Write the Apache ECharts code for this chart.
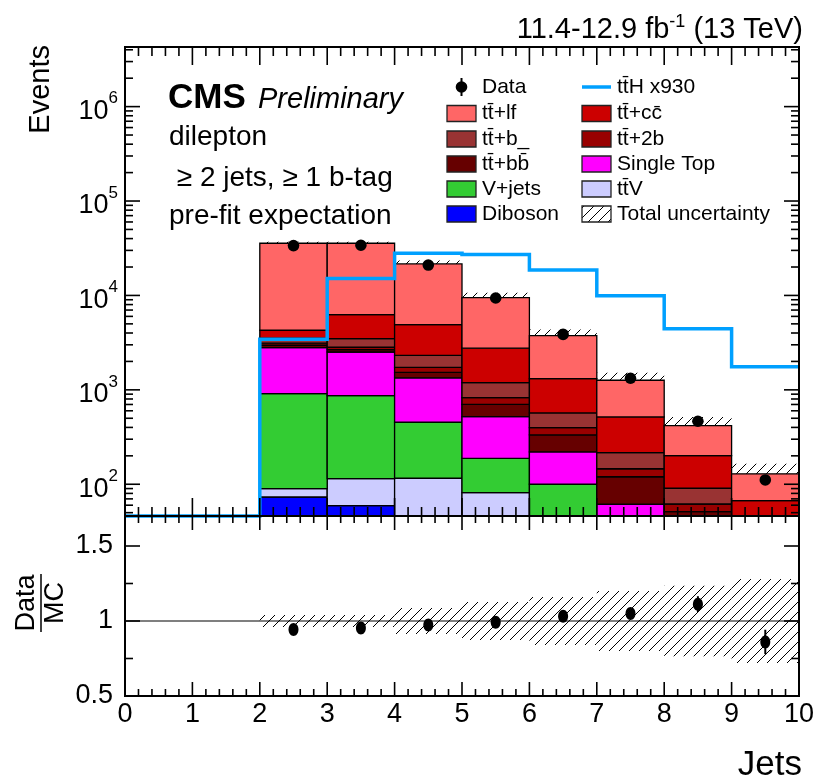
<!DOCTYPE html>
<html><head><meta charset="utf-8">
<script src="https://cdn.jsdelivr.net/npm/echarts@6/dist/echarts.min.js"></script>
<style>html,body{margin:0;padding:0;background:#fff}#c{width:819px;height:782px}</style>
</head><body><div id="c"></div>
<script>
// ---------------- data ----------------
const binEdges  = [0,1,2,3,4,5,6,7,8,9,10];
const xTickLabels = ['0','1','2','3','4','5','6','7','8','9','10'];
const diboson   = [0,0,73.3,59.3,30,20,8,3,1,0.5];
const ttV       = [0,0,16.5,55.3,85.8,61.5,27,17,7,2.5];
const vjets     = [0,0,822,754,338,106.5,65,20,7,3];
const singleTop = [0,0,1888,1649,882,332,120,21.4,15,6];
const ttbb      = [0,0,167,149,199,183,113,58.6,21.3,10];
const tt2b      = [0,0,153,159,199,123,65,26,10.5,8];
const ttb       = [0,0,400,654,588,365,171,70,28.9,10];
const ttcc      = [0,0,760,2790,2588,1569,746,301,110.3,27];
const ttlf      = [0,0,31420,29430,16660,6720,2435,747,217,62];
const ttH930    = [0,0,3436,15070,28000,27200,18630,9950,4450,1761];
const dataVals  = [0,0,33700,34020,20990,9395,3866,1327,465,111];
const dataErr   = [0,0,184,184,145,97,62,36,22,10.5];
const relUnc    = [0,0,0.04,0.04,0.086,0.127,0.16,0.2,0.235,0.28];
const yLogMajor = [100,1000,10000,100000,1000000];
const ratioMajor = [0.5,1,1.5];
const ratioMinor = [0.75,1.25];

// ---------------- setup ----------------
const FONT = '"Liberation Sans", Arial, Helvetica, sans-serif';
const Y_MIN = 46.1, Y_MAX = 4.28e6;
const R_MIN = 0.5, R_MAX = 1.7;
const nb = binEdges.length - 1;

const layers = [
  {name:'Diboson',    vals:diboson,   color:'#0000FF'},
  {name:'ttV',        vals:ttV,       color:'#CCCCFF'},
  {name:'V+jets',     vals:vjets,     color:'#33CC33'},
  {name:'Single Top', vals:singleTop, color:'#FF00FF'},
  {name:'tt+bb',      vals:ttbb,      color:'#660000'},
  {name:'tt+2b',      vals:tt2b,      color:'#990000'},
  {name:'tt+b',       vals:ttb,       color:'#993333'},
  {name:'tt+cc',      vals:ttcc,      color:'#CC0000'},
  {name:'tt+lf',      vals:ttlf,      color:'#FF6666'}
];
let run = new Array(nb).fill(0);
layers.forEach(l => { l.lo = run.slice(); run = run.map((r,i)=>r + l.vals[i]); l.hi = run.slice(); });
const total = run;

// hatch pattern
const hatch = document.createElement('canvas'); hatch.width = 10; hatch.height = 10;
(function(){ const c = hatch.getContext('2d'); c.strokeStyle = '#000'; c.lineWidth = 1;
  c.beginPath(); c.moveTo(-1,11); c.lineTo(11,-1); c.stroke(); })();
const hatchFill = {image: hatch, repeat: 'repeat'};

const mctx = document.createElement('canvas').getContext('2d');
function tw(text, size, pre){ mctx.font = (pre||'') + ' ' + size + 'px ' + FONT; return mctx.measureText(text).width; }

// ---------------- series ----------------
const series = [];

// uncertainty band (behind the stack)
series.push({type:'custom', xAxisIndex:0, yAxisIndex:0, z:1, silent:true, clip:true,
  data: total.map((t,i)=>[i+0.5, Math.max(t, Y_MIN)]),
  renderItem:(p, api)=>{ const i = Math.floor(api.value(0)); const t = total[i]; if (t <= 0) return null;
    const a = api.coord([binEdges[i], t*(1+relUnc[i])]); const b = api.coord([binEdges[i+1], Math.max(t*(1-relUnc[i]), Y_MIN)]);
    return {type:'rect', shape:{x:a[0], y:a[1], width:b[0]-a[0], height:b[1]-a[1]}, style:{fill:hatchFill, stroke:null}}; }
});

// stacked backgrounds
layers.forEach((l, k) => {
  series.push({type:'custom', name:l.name, xAxisIndex:0, yAxisIndex:0, z:2+k*0.01, silent:true, clip:true,
    data: l.hi.map((h,i)=>[i+0.5, Math.max(h, Y_MIN)]),
    renderItem:(p, api)=>{ const i = Math.floor(api.value(0)); const hi = l.hi[i]; const lo = Math.max(l.lo[i], Y_MIN);
      if (hi <= lo) return null;
      const a = api.coord([binEdges[i], hi]); const b = api.coord([binEdges[i+1], lo]);
      return {type:'rect', shape:{x:a[0], y:a[1], width:b[0]-a[0], height:b[1]-a[1]},
        style:{fill:l.color, stroke:'#000', lineWidth:1.3}}; }
  });
});

// ttH x930 step line
series.push({type:'custom', xAxisIndex:0, yAxisIndex:0, z:5, silent:true, clip:false,
  data:[[5, 1000]],
  renderItem:(p, api)=>{ const pts = [];
    ttH930.forEach((v,i)=>{ const vv = Math.max(v, Y_MIN); pts.push(api.coord([binEdges[i], vv])); pts.push(api.coord([binEdges[i+1], vv])); });
    return {type:'polyline', shape:{points:pts}, style:{fill:null, stroke:'#00A0FF', lineWidth:3.5}}; }
});

// data points
series.push({type:'custom', xAxisIndex:0, yAxisIndex:0, z:8, silent:true, clip:false,
  data: dataVals.map((d,i)=>[i+0.5, d]).filter(d=>d[1]>0),
  renderItem:(p, api)=>{ const x = api.value(0), v = api.value(1); const i = Math.floor(x);
    const c = api.coord([x, v]); const u = api.coord([x, v+dataErr[i]]); const d = api.coord([x, Math.max(v-dataErr[i], Y_MIN)]);
    return {type:'group', children:[
      {type:'line', shape:{x1:c[0], y1:u[1], x2:c[0], y2:d[1]}, style:{stroke:'#000', lineWidth:2}},
      {type:'circle', shape:{cx:c[0], cy:c[1], r:5.8}, style:{fill:'#000'}}]}; }
});

// ratio band
series.push({type:'custom', xAxisIndex:1, yAxisIndex:1, z:1, silent:true, clip:true,
  data: total.map((t,i)=>[i+0.5, 1]).filter((d,i)=>total[i]>0),
  renderItem:(p, api)=>{ const i = Math.floor(api.value(0));
    const a = api.coord([binEdges[i], 1+relUnc[i]]); const b = api.coord([binEdges[i+1], 1-relUnc[i]]);
    return {type:'rect', shape:{x:a[0], y:a[1], width:b[0]-a[0], height:b[1]-a[1]}, style:{fill:hatchFill, stroke:null}}; }
});
// ratio = 1 line
series.push({type:'custom', xAxisIndex:1, yAxisIndex:1, z:3, silent:true, clip:false,
  data:[[5,1]],
  renderItem:(p, api)=>{ const a = api.coord([binEdges[0], 1]); const b = api.coord([binEdges[nb], 1]);
    return {type:'line', shape:{x1:a[0], y1:a[1], x2:b[0], y2:b[1]}, style:{stroke:'#000', lineWidth:1.2}}; }
});
// ratio points
series.push({type:'custom', xAxisIndex:1, yAxisIndex:1, z:8, silent:true, clip:false,
  data: dataVals.map((d,i)=>[i+0.5, total[i]>0 ? d/total[i] : 0]).filter((d,i)=>total[i]>0 && dataVals[i]>0),
  renderItem:(p, api)=>{ const x = api.value(0), r = api.value(1); const i = Math.floor(x); const e = dataErr[i]/total[i];
    const c = api.coord([x, r]); const u = api.coord([x, r+e]); const d = api.coord([x, r-e]);
    return {type:'group', children:[
      {type:'line', shape:{x1:c[0], y1:u[1], x2:c[0], y2:d[1]}, style:{stroke:'#000', lineWidth:2}},
      {type:'ellipse', shape:{cx:c[0], cy:c[1], rx:5, ry:6.5}, style:{fill:'#000'}}]}; }
});

// frames, ticks, log labels
const xTickVals = []; for (let i = 0; i <= nb*5; i++) xTickVals.push({v: binEdges[0] + i/5, major: i%5===0});
const logMinor = []; [10,100,1000,10000,100000,1000000].forEach(d=>{ for (let m=2;m<=9;m++){ const v=m*d; if (v>Y_MIN && v<Y_MAX) logMinor.push(v);} });

function frameSeries(xi, yi, yRef, yMaj, yMin, xl, xs, yl, ys, withLogLabels){
  return {type:'custom', xAxisIndex:xi, yAxisIndex:yi, z:20, silent:true, clip:false, data:[[5, yRef]],
    renderItem:(p, api)=>{
      const cs = p.coordSys; const L = cs.x, R = cs.x+cs.width, T = cs.y, B = cs.y+cs.height;
      const ch = [];
      const ln = (x1,y1,x2,y2)=>ch.push({type:'line', shape:{x1,y1,x2,y2}, style:{stroke:'#000', lineWidth:1.6}});
      xTickVals.forEach(t=>{ const x = api.coord([t.v, yRef])[0]; const len = t.major ? xl : xs; ln(x,B,x,B-len); ln(x,T,x,T+len); });
      yMaj.forEach(v=>{ const y = api.coord([0, v])[1]; ln(L,y,L+yl,y); ln(R,y,R-yl,y); });
      yMin.forEach(v=>{ const y = api.coord([0, v])[1]; ln(L,y,L+ys,y); ln(R,y,R-ys,y); });
      ch.push({type:'rect', shape:{x:L, y:T, width:R-L, height:B-T}, style:{fill:null, stroke:'#000', lineWidth:2}});
      if (withLogLabels) {
        yMaj.forEach(v=>{ const y = api.coord([0, v])[1]; const e = String(Math.round(Math.log10(v)));
          const sw = tw(e, 17);
          ch.push({type:'text', x:L-7-sw, y:y+14.3-0.35*27, style:{text:'10', font:'27px '+FONT, fill:'#000', align:'right', verticalAlign:'middle'}});
          ch.push({type:'text', x:L-7, y:y-2-0.35*17, style:{text:e, font:'17px '+FONT, fill:'#000', align:'right', verticalAlign:'middle'}});
        });
      }
      return {type:'group', children:ch};
    }};
}
series.push(frameSeries(0, 0, 1000, yLogMajor, logMinor, 18, 9, 15, 8, true));
series.push(frameSeries(1, 1, 1, ratioMajor, ratioMinor, 14, 7, 15, 8, false));

// ---------------- graphic texts & legend ----------------
const g = [];
function T(text, x, baseline, size, pre, align, extra){
  const el = Object.assign({type:'text', x:x, y:baseline-0.35*size, silent:true,
    style:{text:text, font:(pre||'')+' '+size+'px '+FONT, fill:'#000', align:align||'left', verticalAlign:'middle'}}, extra||{});
  g.push(el); return el;
}
// lumi
(function(){ const s1='11.4-12.9 fb', s2='-1', s3=' (13 TeV)';
  const w1 = tw(s1,29), w2 = tw(s2,18), w3 = tw(s3,29); const x0 = 803 - (w1+w2+w3);
  T(s1, x0, 40, 29); T(s2, x0+w1, 28, 18); T(s3, x0+w1+w2, 40, 29); })();
T('CMS', 168, 111, 35, 'bold');
T('Preliminary', 258, 110, 29, 'italic');
T('dilepton', 169, 147, 28);
T(' \u2265 2 jets, \u2265 1 b-tag', 169, 188, 28);
T('pre-fit expectation', 169, 226, 28);
// axis titles
g.push({type:'text', x:41, y:45, rotation:Math.PI/2, silent:true,
  style:{text:'Events', font:'29px '+FONT, fill:'#000', align:'right', verticalAlign:'middle'}});
g.push({type:'text', x:27, y:603, rotation:Math.PI/2, silent:true,
  style:{text:'Data', font:'27px '+FONT, fill:'#000', align:'center', verticalAlign:'middle'}});
g.push({type:'text', x:56, y:603, rotation:Math.PI/2, silent:true,
  style:{text:'MC', font:'27px '+FONT, fill:'#000', align:'center', verticalAlign:'middle'}});
g.push({type:'line', silent:true, shape:{x1:41, y1:574, x2:41, y2:632}, style:{stroke:'#000', lineWidth:1.5}});
T('Jets', 802, 778, 35, '', 'right');

// legend
const legRows = [87, 113.5, 139, 164, 189, 214];
const col1 = [
  {label:'Data', kind:'data'},
  {label:'tt\u0304+lf', color:'#FF6666'},
  {label:'tt\u0304+b_', color:'#993333'},
  {label:'tt\u0304+bb\u0304', color:'#660000'},
  {label:'V+jets', color:'#33CC33'},
  {label:'Diboson', color:'#0000FF'}
];
const col2 = [
  {label:'tt\u0304H x930', kind:'line'},
  {label:'tt\u0304+cc\u0304', color:'#CC0000'},
  {label:'tt\u0304+2b', color:'#990000'},
  {label:'Single Top', color:'#FF00FF'},
  {label:'tt\u0304V', color:'#CCCCFF'},
  {label:'Total uncertainty', kind:'hatch'}
];
function legCol(items, bx, tx){
  items.forEach((it, r)=>{ const y = legRows[r];
    if (it.kind==='data') {
      g.push({type:'line', silent:true, shape:{x1:bx+14.5, y1:y-9, x2:bx+14.5, y2:y+9}, style:{stroke:'#000', lineWidth:2}});
      g.push({type:'circle', silent:true, shape:{cx:bx+14.5, cy:y, r:5.8}, style:{fill:'#000'}});
    } else if (it.kind==='line') {
      g.push({type:'line', silent:true, shape:{x1:bx, y1:y, x2:bx+29, y2:y}, style:{stroke:'#00A0FF', lineWidth:3.5}});
    } else {
      g.push({type:'rect', silent:true, shape:{x:bx, y:y-8, width:29, height:16},
        style:{fill: it.kind==='hatch' ? hatchFill : it.color, stroke:'#222', lineWidth:1.3}});
    }
    T(it.label, tx, y+0.35*21, 21);
  });
}
legCol(col1, 447, 482);
legCol(col2, 582, 617);

// ---------------- chart ----------------
const chart = echarts.init(document.getElementById('c'), null, {renderer:'canvas'});
const hiddenAxis = {axisLine:{show:false}, axisTick:{show:false}, splitLine:{show:false}};
chart.setOption({
  animation:false,
  backgroundColor:'#fff',
  grid:[{left:125, top:47, width:674, height:469}, {left:125, top:516, width:674, height:180}],
  xAxis:[
    Object.assign({gridIndex:0, type:'value', min:binEdges[0], max:binEdges[nb], interval:1, axisLabel:{show:false}}, hiddenAxis),
    Object.assign({gridIndex:1, type:'value', min:binEdges[0], max:binEdges[nb], interval:1,
      axisLabel:{show:true, fontSize:27, fontFamily:FONT, color:'#000', margin:5,
        formatter:(v)=>{ const i = Math.round(v); return Math.abs(v-i)<1e-6 && xTickLabels[i]!==undefined ? xTickLabels[i] : ''; }}}, hiddenAxis)
  ],
  yAxis:[
    Object.assign({gridIndex:0, type:'log', logBase:10, min:Y_MIN, max:Y_MAX, axisLabel:{show:false}}, hiddenAxis),
    Object.assign({gridIndex:1, type:'value', min:R_MIN, max:R_MAX, interval:0.5,
      axisLabel:{show:true, fontSize:27, fontFamily:FONT, color:'#000', margin:12,
        formatter:(v)=>{ for (const m of ratioMajor) if (Math.abs(v-m)<1e-6) return String(m); return ''; }}}, hiddenAxis)
  ],
  series: series,
  graphic: g
});
</script></body></html>
